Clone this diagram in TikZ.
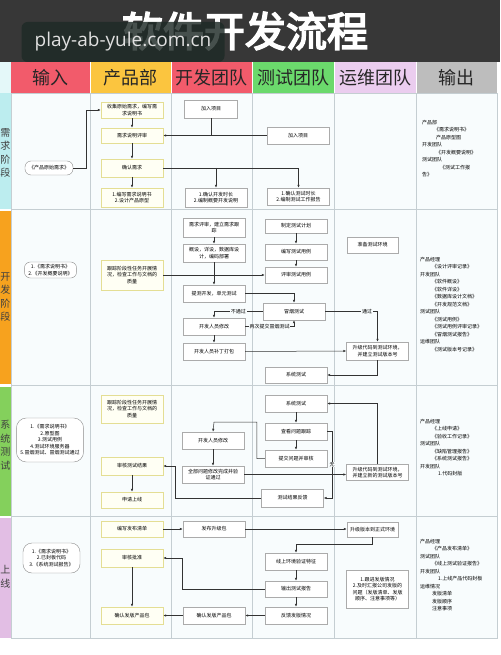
\documentclass[tikz,border=0pt]{standalone}
\usepackage{fontspec}
\setmainfont{Noto Sans CJK SC}
\newfontfamily\titlefont[FakeBold=4]{Noto Sans CJK SC}
\newfontfamily\markfont{Open Sans}
\XeTeXlinebreaklocale "zh"
\XeTeXlinebreakskip=0pt
\usetikzlibrary{arrows.meta,calc,positioning,shadows}

\definecolor{banner}{HTML}{373737}
\definecolor{markbg}{HTML}{1E2A26}
\definecolor{hdred}{HTML}{F25B6B}
\definecolor{hdyellow}{HTML}{FBC53F}
\definecolor{hdgreen}{HTML}{6BD96C}
\definecolor{hdlilac}{HTML}{EBCDEF}
\definecolor{hdgray}{HTML}{BDBDBD}
\definecolor{stneed}{HTML}{BCEDEF}
\definecolor{stdev}{HTML}{F7A21E}
\definecolor{sttest}{HTML}{84D05C}
\definecolor{stlive}{HTML}{E2BEE4}
\definecolor{gridbg}{HTML}{F8FCFD}
\definecolor{gridline}{HTML}{C5CED2}
\definecolor{pmline}{HTML}{E4DE94}
\definecolor{pmfill}{HTML}{FFFFF4}
\definecolor{boxline}{HTML}{ABABAB}

\begin{document}
\begin{tikzpicture}[x=1pt, y=-1pt, >={Latex[length=3pt,width=2.4pt]},
  every node/.style={inner sep=0pt},
  flow/.style={->, line width=0.5pt, draw=black!80},
  link/.style={line width=0.5pt, draw=black!80},
  taskbox/.style={draw=boxline, fill=white, line width=0.4pt, text width=51pt,
    inner xsep=5.5pt, align=flush center, minimum height=16pt,
    font=\fontsize{5}{6.5}\selectfont,
    drop shadow={shadow xshift=0.7pt, shadow yshift=-0.7pt, opacity=0.25}},
  pmbox/.style={taskbox, draw=pmline, fill=pmfill},
  opsbox/.style={taskbox, text width=46pt, inner xsep=2.5pt},
  inbox/.style={draw=black!45, fill=white, line width=0.4pt, rounded corners=6pt,
    align=center, inner xsep=4pt, font=\fontsize{5}{6.5}\selectfont},
  outlist/.style={anchor=north west, align=left, font=\fontsize{5}{7.5}\selectfont},
  head/.style={font=\fontsize{18}{18}\selectfont, text=black!85},
  stagelbl/.style={align=center, font=\fontsize{10}{13.5}\selectfont, text=black!75},
  tag/.style={fill=gridbg, inner sep=0.6pt, font=\fontsize{5}{5}\selectfont}]

  \useasboundingbox (0,0) rectangle (500,655);
  \fill[white] (0,0) rectangle (500,655);

  % Title banner
  \fill[banner] (0,0) rectangle (500,62);
  \node[text=white, font=\titlefont\fontsize{41}{41}\selectfont] (title) at (245,31) {软件开发流程};
  \node[fill=markbg, fill opacity=0.82, text opacity=1, rounded corners=6pt,
    minimum width=203pt, minimum height=40pt, text=black!12,
    font=\markfont\fontsize{19}{19}\selectfont] (mark) at (123,42) {play-ab-yule.com.cn};

  % Lane headers
  \fill[stneed!40] (0,62) rectangle (11,93);
  \fill[hdred]    (11,62)  rectangle (90,93);
  \fill[hdyellow] (90,62)  rectangle (171,93);
  \fill[hdred]    (171,62) rectangle (252,93);
  \fill[hdgreen]  (252,62) rectangle (334,93);
  \fill[hdlilac]  (334,62) rectangle (416,93);
  \fill[hdgray]   (416,62) rectangle (497,93);
  \foreach \x in {90,171,252,334,416}
    \draw[white, line width=0.6pt] (\x,62) -- (\x,93);
  \node[head] (hin)   at (50.5,78)  {输入};
  \node[head] (hpm)   at (130.5,78) {产品部};
  \node[head] (hdev)  at (211.5,78) {开发团队};
  \node[head] (htest) at (293,78)   {测试团队};
  \node[head] (hops)  at (375,78)   {运维团队};
  \node[head] (hout)  at (456.5,78) {输出};

  % Swimlane grid
  \fill[gridbg] (11,93) rectangle (497,638);
  \foreach \x in {90,171,252,334,416}
    \draw[gridline, line width=0.5pt] (\x,93) -- (\x,638);
  \foreach \y in {209,385,516}
    \draw[gridline, line width=0.5pt] (11,\y) -- (497,\y);
  \draw[gridline, line width=0.5pt] (11,93) rectangle (497,638);

  % Stage bars
  \fill[stneed] (0,93)  rectangle (11,209);
  \fill[stdev]  (0,211) rectangle (11,384);
  \fill[sttest] (0,387) rectangle (11,516);
  \fill[stlive] (0,518) rectangle (11,638);
  \node[stagelbl] (sneed) at (5.5,153) {需\\求\\阶\\段};
  \node[stagelbl] (sdev)  at (5.5,297) {开\\发\\阶\\段};
  \node[stagelbl] (stest) at (5.5,445) {系\\统\\测\\试};
  \node[stagelbl] (slive) at (5.5,577) {上\\线};

  % Requirement stage
  \node[inbox, minimum height=14pt] (in1) at (49,168) {《产品原始需求》};
  \node[pmbox] (p1) at (132,110) {收集原始需求，编写需求说明书};
  \node[pmbox, minimum height=15pt] (p2) at (132,135.5) {需求说明评审};
  \node[pmbox, minimum height=18pt] (p3) at (132,168) {确认需求};
  \node[pmbox, minimum height=19pt] (p4) at (132,197.5) {1.编写需求说明书\\2.设计产品原型};
  \node[taskbox, text width=42pt, minimum height=18pt] (d1) at (211,109) {加入项目};
  \node[taskbox, minimum height=19pt] (d2) at (216,197.5) {1.确认开发时长\\2.编制概要开发说明};
  \node[taskbox, minimum height=17pt] (t1) at (298,135.5) {加入项目};
  \node[taskbox, minimum height=17pt] (t2) at (298.5,196.5) {1.确认测试时长\\2.编制测试工作报告};

  \draw[flow] (in1.east) -- ++(13,0) |- (p1.west);
  \draw[flow] (p1) -- (p2);
  \draw[flow] (p2) -- (p3);
  \draw[flow] (p3) -- (p4);
  \draw[flow] (t1.west) -- (p2.east);
  \draw[link] (d1.south) -- (d1.south |- p2.east);
  \draw[flow] (p3.east) -| (t2.north);
  \draw[flow] (d2.north |- p3.east) -- (d2.north);

  \node[outlist] (out1) at (422,120) {产品部\\\hspace*{12pt}《需求说明书》\\\hspace*{14pt}产品原型图\\开发团队\\\hspace*{14pt}《开发概要说明》\\测试团队\\\hspace*{18pt}《测试工作报\\告》};

  % Development stage
  \node[inbox, minimum height=16pt] (in2) at (50.5,270) {1.《需求说明书》\\2.《开发概要说明》};
  \node[pmbox, minimum height=30pt] (p5) at (132,275) {跟踪阶段性任务开展情况，检查工作与文档的质量};
  \node[taskbox, minimum height=19pt] (d3) at (214,227.5) {需求评审，建立需求跟踪};
  \node[taskbox, minimum height=18pt] (d4) at (214,253) {概设，详设，数据库设计，编码部署};
  \node[taskbox, minimum height=17pt] (d5) at (214,293.5) {提测开发，单元测试};
  \node[taskbox, minimum height=17pt] (d6) at (214,326.5) {开发人员修改};
  \node[taskbox, minimum height=17pt] (d7) at (214,351.5) {开发人员补丁打包};
  \node[taskbox, minimum height=14pt] (t3) at (296,226) {制定测试计划};
  \node[taskbox, minimum height=16pt] (t4) at (296,252) {编写测试用例};
  \node[taskbox, minimum height=16pt] (t5) at (296,275) {评审测试用例};
  \node[taskbox, minimum height=17pt] (t6) at (294,311.5) {冒烟测试};
  \node[taskbox, minimum height=16pt] (t7) at (296,375) {系统测试};
  \node[opsbox, minimum height=16pt] (o1) at (372.5,245) {准备测试环境};
  \node[taskbox, minimum height=18pt] (o2) at (377.5,351) {升级代码到测试环境，并建立测试版本号};

  \draw[flow] (d3) -- (d4);
  \draw[flow] (d4) -- (d5);
  \draw[flow] (d6) -- (d7);
  \draw[flow] (t3) -- (t4);
  \draw[flow] (t4) -- (t5);
  \draw[flow] (p5.east) -- (t5.west);
  \draw[flow] (d5.east) -| (t6.north);
  \draw[flow] (t6.west) -| node[tag, pos=0.25] {不通过} (d6.north);
  \draw[flow] (d6.east) -| node[tag, pos=0.25] {再次提交冒烟测试} (t6.south);
  \draw[flow] (t6.east) -| node[tag, pos=0.4] {通过} (o2.north);
  \draw[flow] (d7.east) -- (o2.west);
  \draw[flow] (o2.south) |- (t7.east);

  \node[outlist] (out2) at (420,257) {产品经理\\\hspace*{12pt}《设计评审记录》\\开发团队\\\hspace*{12pt}《软件概设》\\\hspace*{12pt}《软件详设》\\\hspace*{12pt}《数据库设计文档》\\\hspace*{12pt}《开发规范文档》\\测试团队\\\hspace*{12pt}《测试用例》\\\hspace*{12pt}《测试用例评审记录》\\\hspace*{12pt}《冒烟测试报告》\\运维团队\\\hspace*{12pt}《测试版本号记录》};

  % System test stage
  \node[inbox, minimum height=44pt, minimum width=64pt, rounded corners=10pt] (in3) at (50,440) {1.《需求说明书》\\2.原型图\\3.测试用例\\4.测试环境服务器\\5.冒烟测试、冒烟测试通过};
  \node[pmbox, minimum height=28pt] (p6) at (132,409) {跟踪阶段性任务开展情况，检查工作与文档的质量};
  \node[pmbox, minimum height=18pt] (p7) at (132,466) {审核测试结果};
  \node[pmbox, minimum height=16pt] (p8) at (132,500) {申请上线};
  \node[taskbox, minimum height=17pt] (d8) at (213,440.5) {开发人员修改};
  \node[taskbox, minimum height=17pt] (d9) at (213,474.5) {全部问题修改完成并验证通过};
  \node[taskbox, minimum height=17pt] (t8) at (296,403.5) {系统测试};
  \node[taskbox, minimum height=17pt] (t9) at (296,431.5) {查看问题跟踪};
  \node[taskbox, minimum height=17pt] (t10) at (296,458.5) {提交问题并审核};
  \node[taskbox, minimum height=18pt] (t11) at (292.5,498) {测试结果反馈};
  \node[taskbox, minimum height=16pt] (o3) at (377.5,472.5) {升级代码到测试环境，并建立新的测试版本号};

  \draw[flow] (p7) -- (p8);
  \draw[flow] (d8) -- (d9);
  \draw[flow] (t8) -- (t9);
  \draw[flow] (t9) -- (t10);
  \coordinate (bug) at (214,422);
  \draw[flow] (t10.west) -- ++(-8,0) |- (bug) -- (d8.north);
  \draw[flow] (d9.east) -- (d9.east -| o3.west);
  \draw[flow] (o3.north) |- (t8.east);
  \draw[flow] (t9.east) -- ++(5,0) |- node[tag, pos=0.25] {无} (t11.east);
  \coordinate (back) at (175,498);
  \draw[flow] (t11.west) -- (back) |- (p7.east);

  \node[outlist] (out3) at (420,419) {产品经理\\\hspace*{12pt}《上线申请》\\\hspace*{12pt}《验收工作记录》\\测试团队\\\hspace*{12pt}《缺陷管理报告》\\\hspace*{12pt}《系统测试报告》\\开发团队\\\hspace*{18pt}1.代码封版};

  % Go-live stage
  \node[inbox, minimum height=30pt, minimum width=57pt, rounded corners=9pt] (in4) at (51.5,558) {1.《需求说明书》\\2.已封板代码\\3.《系统测试报告》};
  \node[pmbox] (p9) at (132,529) {编写发布清单};
  \node[pmbox, minimum height=18pt] (p10) at (132,558) {审核批准};
  \node[pmbox, minimum height=17pt] (p11) at (132,615.5) {确认发版产品包};
  \node[taskbox] (d10) at (214,529) {发布升级包};
  \node[taskbox, minimum height=17pt] (d11) at (214,615.5) {确认发版产品包};
  \node[taskbox, minimum height=17pt] (t12) at (296,561.5) {线上环境验证特征};
  \node[taskbox] (t13) at (296,589) {输出测试报告};
  \node[taskbox, minimum height=17pt] (t14) at (296,615.5) {反馈发版情况};
  \node[opsbox, minimum height=15pt] (o4) at (372.5,529.5) {升级版本到正式环境};
  \node[taskbox, minimum height=38pt] (o5) at (377.5,589) {1.跟进发版情况\\2.及时汇报公司发版的问题（发版清单、发版顺序、注意事项等）};

  \draw[flow] (p9) -- (d10);
  \draw[flow] (d10.east) -- (d10.east -| o4.west);
  \draw[flow] (o4.south) -- ++(0,7) -| (t12.north);
  \draw[flow] (t12) -- (t13);
  \draw[flow] (t13) -- (t14);
  \coordinate (ok) at (182,589);
  \draw[flow] (t13.west) -- (ok) |- (p10.east);
  \draw[flow] (p10) -- (p11);
  \draw[flow] (t14) -- (d11);
  \draw[flow] (d11) -- (p11);

  \node[outlist] (out4) at (420,539) {产品经理\\\hspace*{12pt}《产品发布清单》\\测试团队\\\hspace*{12pt}《线上测试验证报告》\\开发团队\\\hspace*{18pt}1.上线产品代码封板\\运维情况\\\hspace*{12pt}发版清单\\\hspace*{12pt}发版顺序\\\hspace*{12pt}注意事项};

\end{tikzpicture}
\end{document}
